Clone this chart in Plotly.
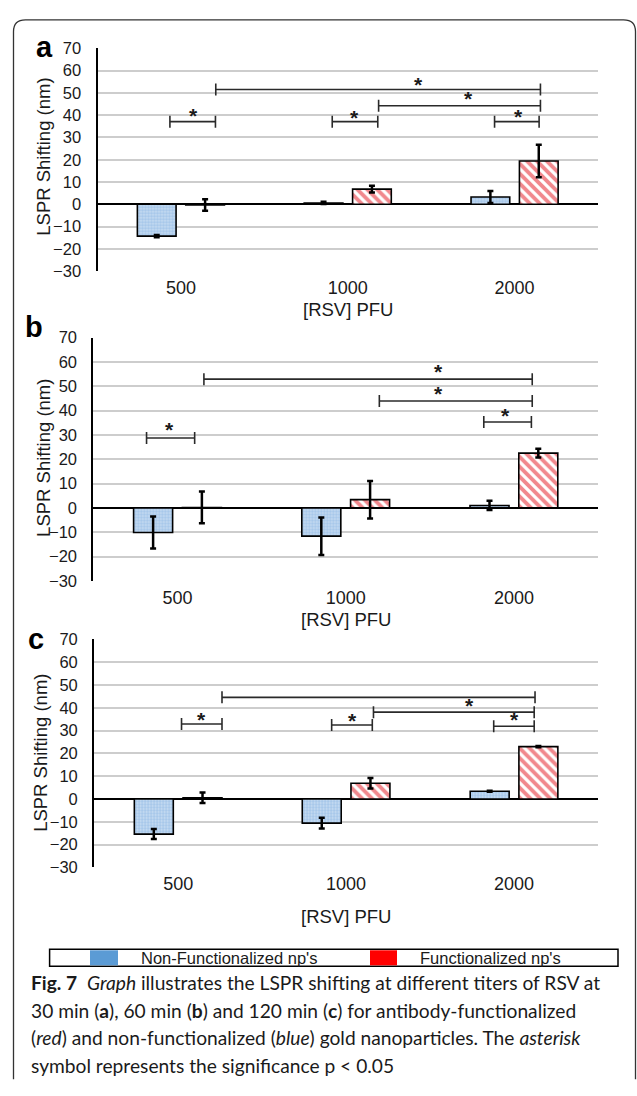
import plotly.graph_objects as go

W, H = 637, 1096


def px(x):
    return x / W


def py(y):
    return 1 - y / H


# ---------------- data ----------------
categories = ["500", "1000", "2000"]
cat_pos = [0, 1, 2]
y_ticks = [-30, -20, -10, 0, 10, 20, 30, 40, 50, 60, 70]

# panel a (30 min)
a_nonfunc = [-14.3, 0.6, 3.3]
a_nonfunc_err = [0.5, 0.5, 2.7]
a_func = [-0.3, 6.8, 19.4]
a_func_err = [2.6, 1.5, 7.3]

# panel b (60 min)
b_nonfunc = [-10.1, -11.6, 1.0]
b_nonfunc_err = [6.6, 7.7, 1.9]
b_func = [0.2, 3.4, 22.5]
b_func_err = [6.5, 7.7, 1.8]

# panel c (120 min)
c_nonfunc = [-15.4, -10.6, 3.4]
c_nonfunc_err = [2.2, 2.4, 0.2]
c_func = [0.5, 6.9, 23.0]
c_func_err = [2.3, 2.3, 0.3]

# significance brackets: (x start, x end, height) in category units / nm
a_sig = [(-0.066, 0.207, 37.1), (0.209, 2.155, 51.5), (1.185, 2.155, 44.2),
         (0.907, 1.180, 37.1), (1.880, 2.147, 37.1)]
a_stars = [(0.078, 40.0), (1.424, 53.8), (1.721, 47.3), (1.041, 39.0), (2.021, 39.5)]

b_sig = [(-0.184, 0.102, 28.7), (0.157, 2.109, 52.9), (1.200, 2.109, 43.9),
         (1.821, 2.104, 35.3)]
b_stars = [(-0.050, 32.3), (1.551, 56.2), (1.551, 46.8), (1.952, 38.0)]

c_sig = [(0.261, 2.125, 44.6), (1.163, 2.120, 38.1), (0.020, 0.261, 32.9),
         (0.914, 1.156, 32.5), (1.879, 2.120, 31.9)]
c_stars = [(1.736, 40.9), (0.138, 35.0), (1.037, 34.4), (2.002, 34.7)]

series_names = ["Non-Functionalized np's", "Functionalized np's"]
panel_letters = ["a", "b", "c"]
x_title = "[RSV] PFU"
y_title = "LSPR Shifting (nm)"

# ---------------- styling ----------------
FONT = "Liberation Sans, Arial, sans-serif"
CAP_FONT = "Lato, sans-serif"
BLUE_BG = "#a3c5e9"
RED = "#e3121b"

panels = [
    dict(nf=a_nonfunc, nfe=a_nonfunc_err, f=a_func, fe=a_func_err, sig=a_sig, stars=a_stars,
         xdom=[px(97.5), px(598)], ydom=[py(266.5), py(40)], letter_xy=(44, 39),
         ytitle_xy=(42.7, 150.5), xtitle_y=306),
    dict(nf=b_nonfunc, nfe=b_nonfunc_err, f=b_func, fe=b_func_err, sig=b_sig, stars=b_stars,
         xdom=[px(93.4), px(598)], ydom=[py(581.5), py(334)], letter_xy=(34, 323),
         ytitle_xy=(42.7, 456.7), xtitle_y=621),
    dict(nf=c_nonfunc, nfe=c_nonfunc_err, f=c_func, fe=c_func_err, sig=c_sig, stars=c_stars,
         xdom=[px(94.2), px(598)], ydom=[py(872.7), py(641)], letter_xy=(36, 641),
         ytitle_xy=(40.6, 756.7), xtitle_y=922.5),
]

fig = go.Figure()
shapes = []
annotations = []
layout_axes = {}

for i, p in enumerate(panels):
    n = "" if i == 0 else str(i + 1)
    xa, ya = "x" + n, "y" + n
    fig.add_trace(go.Bar(
        x=cat_pos, y=p["nf"], name=series_names[0], xaxis=xa, yaxis=ya,
        offsetgroup="nf",
        marker=dict(color=BLUE_BG, line=dict(color="black", width=1.6),
                    pattern=dict(shape=".", fgcolor="white", bgcolor=BLUE_BG,
                                 size=3, solidity=0.4)),
        error_y=dict(type="data", array=p["nfe"], color="black", thickness=2.5, width=3),
        showlegend=False,
    ))
    fig.add_trace(go.Bar(
        x=cat_pos, y=p["f"], name=series_names[1], xaxis=xa, yaxis=ya,
        offsetgroup="f",
        marker=dict(color="white", line=dict(color="black", width=1.6),
                    pattern=dict(shape="\\", fgcolor=RED, bgcolor="white",
                                 size=7, solidity=0.55)),
        error_y=dict(type="data", array=p["fe"], color="black", thickness=2.5, width=3),
        showlegend=False,
    ))
    layout_axes["xaxis" + n] = dict(
        domain=p["xdom"], anchor=ya, range=[-0.5, 2.5],
        tickvals=cat_pos, ticktext=categories, showgrid=False, zeroline=False,
        showline=False, ticks="", tickfont=dict(size=18, family=FONT, color="#1a1a1a"),
        ticklabelstandoff=4, fixedrange=True,
    )
    layout_axes["yaxis" + n] = dict(
        domain=p["ydom"], anchor=xa, range=[-30, 70], tickvals=y_ticks,
        showgrid=True, gridcolor="#cdcdcd", gridwidth=1.5,
        zeroline=True, zerolinecolor="black", zerolinewidth=2,
        showline=True, linecolor="black", linewidth=2.2, ticks="",
        tickfont=dict(size=16.5, family=FONT, color="#1a1a1a"),
        ticklabelstandoff=11, fixedrange=True,
    )
    # significance brackets
    for (x0, x1, yv) in p["sig"]:
        shapes.append(dict(type="line", xref=xa, yref=ya, x0=x0, x1=x1, y0=yv, y1=yv,
                           line=dict(color="#2a2a2a", width=1.6)))
        for xe in (x0, x1):
            shapes.append(dict(type="line", xref=xa, yref=ya, x0=xe, x1=xe,
                               ysizemode="pixel", yanchor=yv, y0=-6, y1=6,
                               line=dict(color="#2a2a2a", width=1.6)))
    for (xs, ys) in p["stars"]:
        annotations.append(dict(xref=xa, yref=ya, x=xs, y=ys, text="<b>*</b>", showarrow=False,
                                font=dict(size=21, family=FONT, color="#1a1a1a"),
                                xanchor="center", yanchor="middle", yshift=0))
    # panel letter
    lx, ly = p["letter_xy"]
    annotations.append(dict(xref="paper", yref="paper", x=px(lx), y=py(ly),
                            text="<b>%s</b>" % panel_letters[i], showarrow=False,
                            font=dict(size=29, family=FONT, color="black"),
                            xanchor="center", yanchor="middle"))
    # axis titles
    tx, ty = p["ytitle_xy"]
    annotations.append(dict(xref="paper", yref="paper", x=px(tx), y=py(ty),
                            text=y_title, showarrow=False, textangle=-90,
                            font=dict(size=18.5, family=FONT, color="#1a1a1a"),
                            xanchor="center", yanchor="middle"))
    annotations.append(dict(xref="paper", yref="paper",
                            x=(p["xdom"][0] + p["xdom"][1]) / 2, y=py(p["xtitle_y"]),
                            text=x_title, showarrow=False,
                            font=dict(size=18.5, family=FONT, color="#1a1a1a"),
                            xanchor="center", yanchor="middle"))

# ---------------- legend box ----------------
shapes.append(dict(type="rect", xref="paper", yref="paper", x0=px(49.6), x1=px(618),
                   y0=py(973.3), y1=py(956), line=dict(color="black", width=1.5),
                   fillcolor="white"))
shapes.append(dict(type="rect", xref="paper", yref="paper", x0=px(90), x1=px(118),
                   y0=py(972.3), y1=py(957), line=dict(width=0), fillcolor="#5b9bd5"))
shapes.append(dict(type="rect", xref="paper", yref="paper", x0=px(370), x1=px(397),
                   y0=py(972.3), y1=py(957), line=dict(width=0), fillcolor="#ff0000"))
annotations.append(dict(xref="paper", yref="paper", x=px(229), y=py(965), text=series_names[0],
                        showarrow=False, font=dict(size=16.5, family=FONT, color="#1a1a1a"),
                        xanchor="center", yanchor="middle"))
annotations.append(dict(xref="paper", yref="paper", x=px(490), y=py(965), text=series_names[1],
                        showarrow=False, font=dict(size=16.5, family=FONT, color="#1a1a1a"),
                        xanchor="center", yanchor="middle"))

# ---------------- caption ----------------
caption_lines = [
    "<b>Fig. 7</b>  <i>Graph</i> illustrates the LSPR shifting at different titers of RSV at",
    "30 min (<b>a</b>), 60 min (<b>b</b>) and 120 min (<b>c</b>) for antibody-functionalized",
    "(<i>red</i>) and non-functionalized (<i>blue</i>) gold nanoparticles. The <i>asterisk</i>",
    "symbol represents the significance p &lt; 0.05",
]
caption_y = [990, 1018, 1046, 1074]
for txt, cy in zip(caption_lines, caption_y):
    annotations.append(dict(xref="paper", yref="paper", x=px(29), y=py(cy), text=txt,
                            showarrow=False, font=dict(size=19.2, family=CAP_FONT, color="#1a1a1a"),
                            xanchor="left", yanchor="middle"))

# ---------------- outer border ----------------
r = 12
L, R, T, B = 13.5, 635.5, 11, 1088
border = ("M %f,%f L %f,%f Q %f,%f %f,%f L %f,%f Q %f,%f %f,%f L %f,%f" % (
    px(L), py(B), px(L), py(T + r), px(L), py(T), px(L + r), py(T),
    px(R - r), py(T), px(R), py(T), px(R), py(T + r), px(R), py(B)))
shapes.append(dict(type="path", xref="paper", yref="paper", path=border,
                   line=dict(color="#333333", width=1.3)))

fig.update_layout(
    width=W, height=H, margin=dict(l=0, r=0, t=0, b=0),
    paper_bgcolor="white", plot_bgcolor="white",
    barmode="group", bargap=0.42, bargroupgap=0.2,
    font=dict(family=FONT, color="#1a1a1a"),
    showlegend=False, shapes=shapes, annotations=annotations,
    **layout_axes,
)

fig.write_html("out.html", config=dict(displayModeBar=False))
